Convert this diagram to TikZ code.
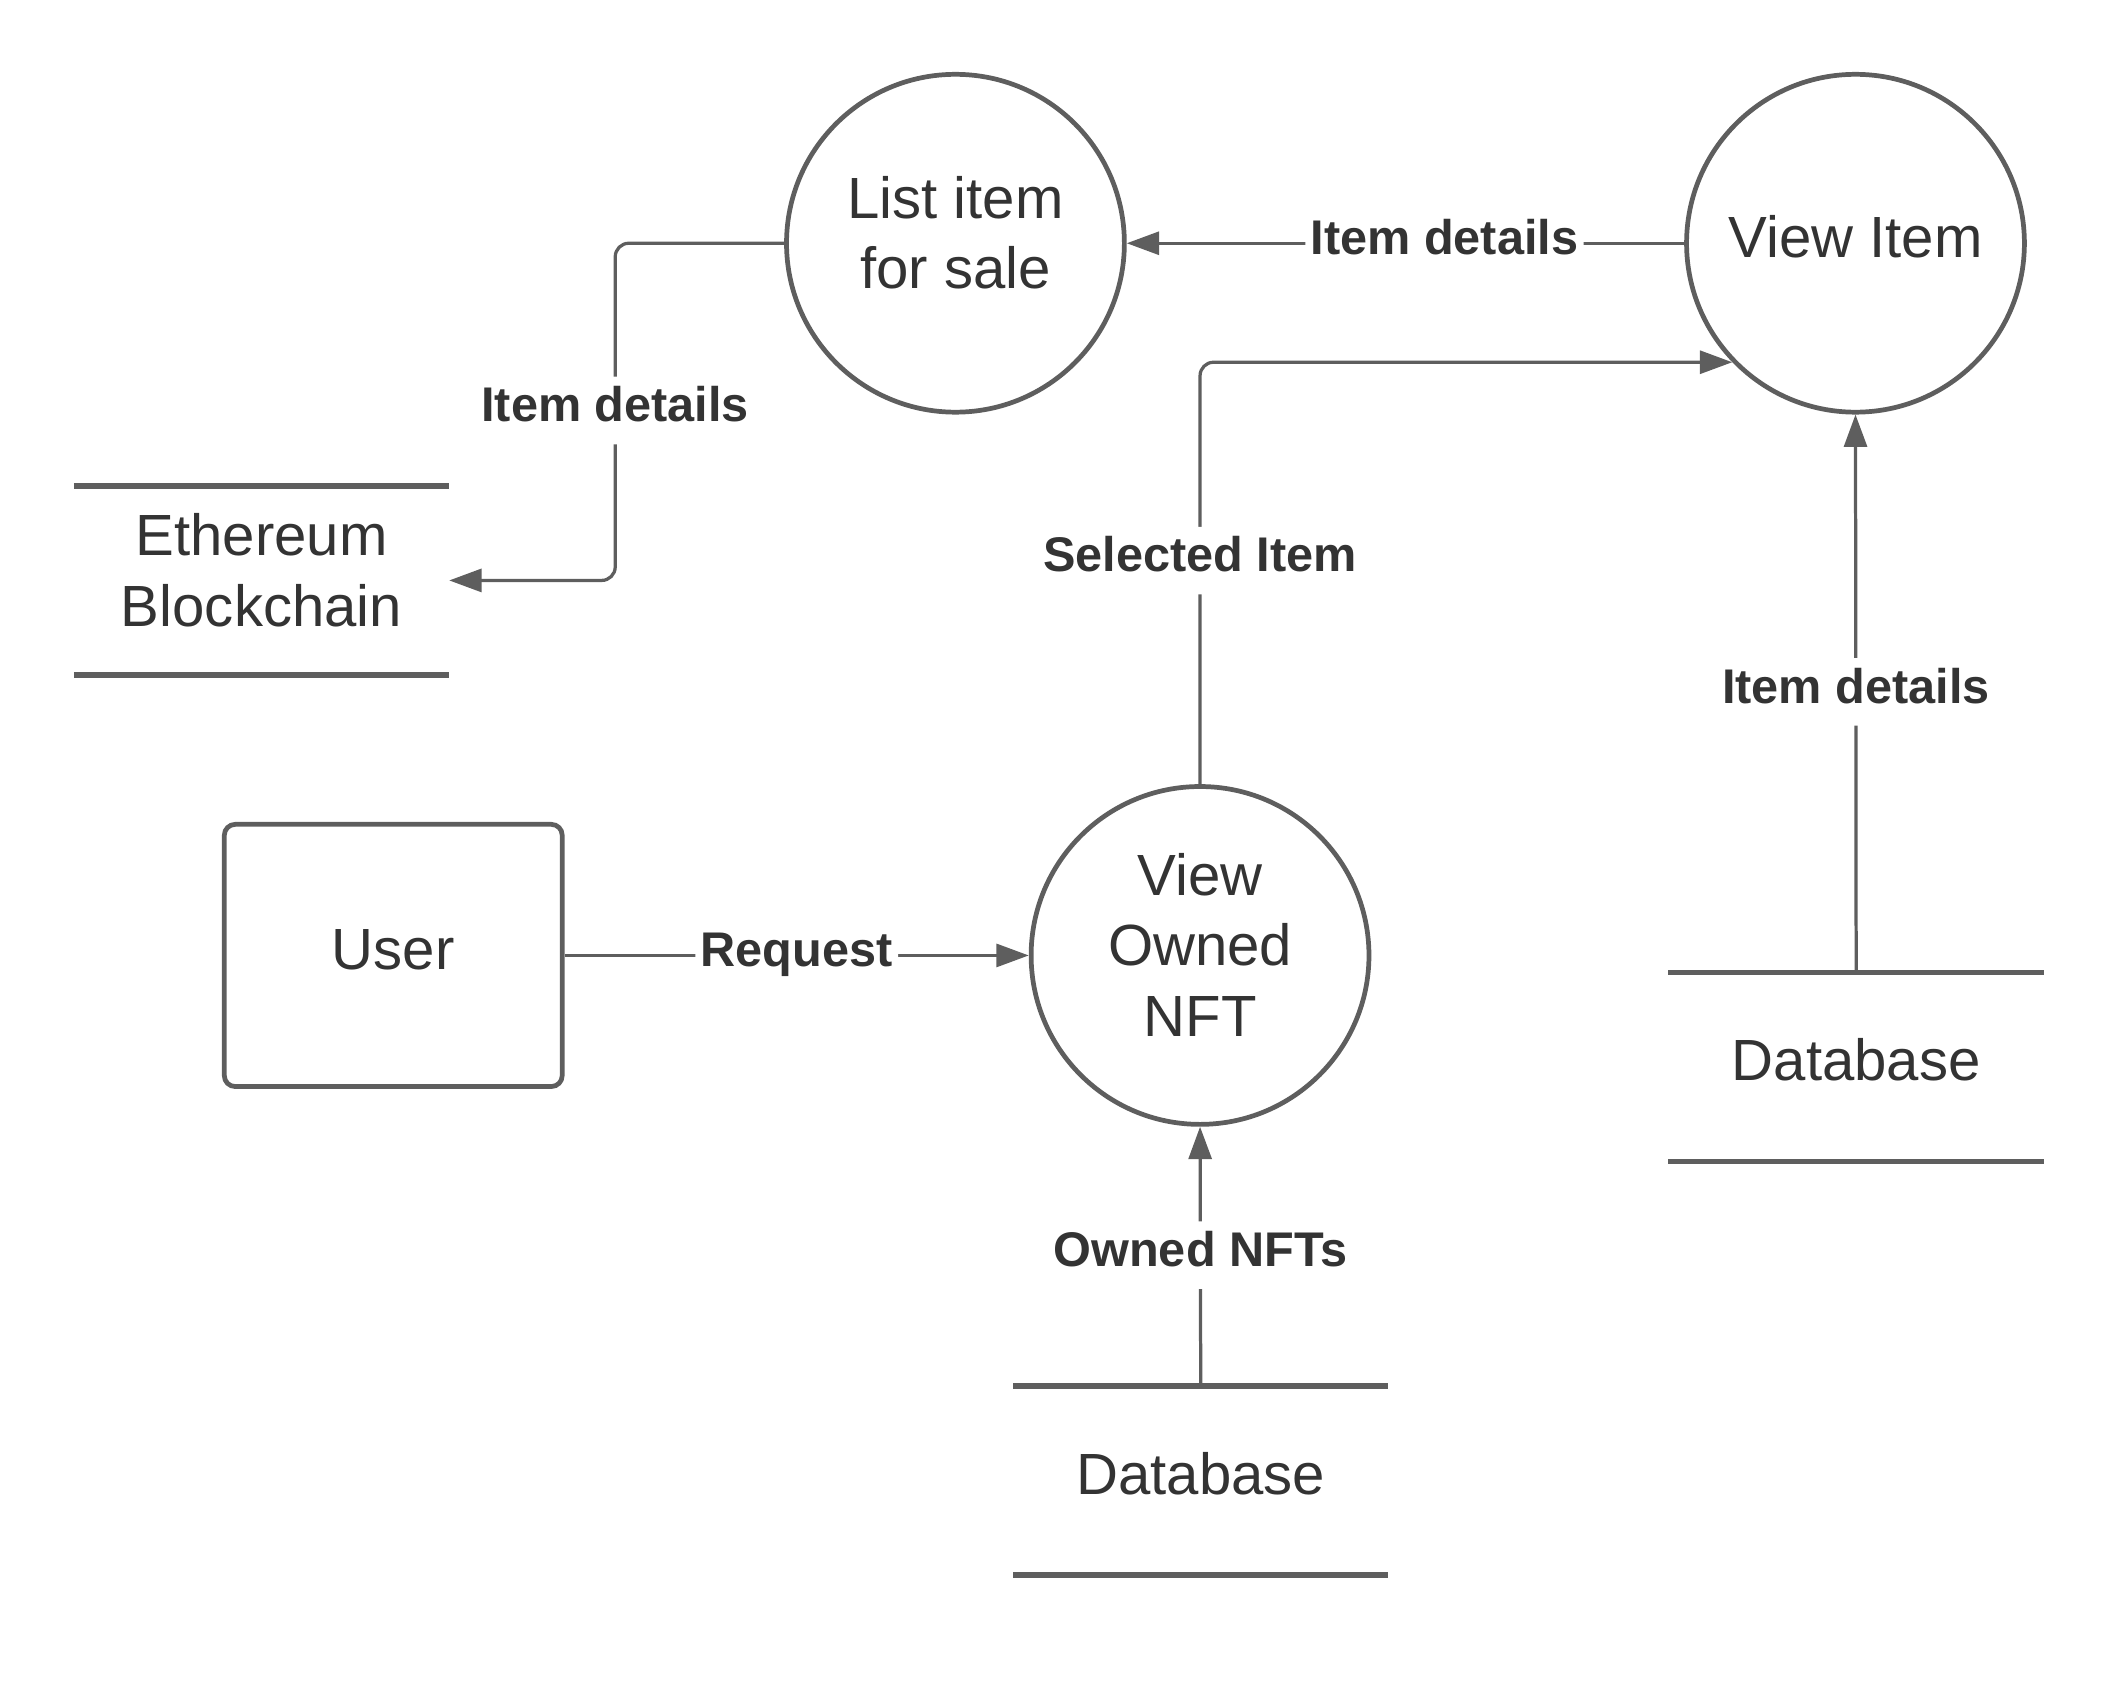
\documentclass[tikz,border=0pt]{standalone}
\usepackage{fontspec}
\setmainfont{Liberation Sans}
\usetikzlibrary{arrows.meta,positioning}
\definecolor{linegray}{RGB}{94,94,94}
\definecolor{textgray}{RGB}{51,51,51}
\tikzset{
  nodetext/.style={align=center, text=textgray, font=\fontsize{21.5}{26}\selectfont, execute at begin node=\strut, execute at end node=\strut},
  process/.style={circle, draw=linegray, line width=1.75pt, minimum size=125pt, inner sep=0pt, nodetext},
  entity/.style={rectangle, rounded corners=4pt, draw=linegray, line width=1.75pt, minimum width=125pt, minimum height=97pt, nodetext},
  store/.style={rectangle, minimum width=138.5pt, minimum height=69.5pt, inner sep=0pt, nodetext},
  storeline/.style={draw=linegray, line width=2pt},
  flow/.style={draw=linegray, line width=1.2pt, rounded corners=5pt, -{Triangle[length=12pt,width=8.5pt]}},
  flowlabel/.style={fill=white, inner sep=2pt, text=textgray, font=\fontsize{18}{21}\selectfont\bfseries, execute at begin node=\strut}
}
\begin{document}
\begin{tikzpicture}[x=0.5pt, y=-0.5pt]
        \useasboundingbox (0,0) rectangle (1568,1246);
        % Define nodes
        % processes
        \node[process](list) at (707,180) {List item\\for sale}; %
        \node[process](view) at (1373,180) {View Item}; %
        \node[process](owned) at (888,707) {View\\Owned\\NFT}; %
        % external entity
        \node[entity](user) at (291,707) {User}; %
        % data stores
        \node[store](eth) at (193.5,429.5) {Ethereum\\Blockchain}; %
        \node[store](dbview) at (1373.5,789.5) {Database}; %
        \node[store](dbowned) at (888.5,1095.5) {Database}; %
        \foreach \s in {eth,dbview,dbowned} {
            \draw[storeline] (\s.north west) -- (\s.north east);
            \draw[storeline] (\s.south west) -- (\s.south east);
        }
        % flows
        \draw[flow] (user.east) -- (owned.west) node[flowlabel, pos=0.5]{Request};
        \draw[flow] (dbowned.north) -- (owned.south) node[flowlabel, pos=0.505]{Owned NFTs};
        \draw[flow] (owned.north) |- (view.224) node[flowlabel, pos=0.265]{Selected Item};
        \draw[flow] (dbview.north) -- (view.south) node[flowlabel, pos=0.503]{Item details};
        \draw[flow] (view.west) -- (list.east) node[flowlabel, pos=0.43]{Item details};
        \draw[flow] (list.west) -- ++(-125,0) |- (eth.east) node[flowlabel, pos=0.248]{Item details};
    \end{tikzpicture}
\end{document}
